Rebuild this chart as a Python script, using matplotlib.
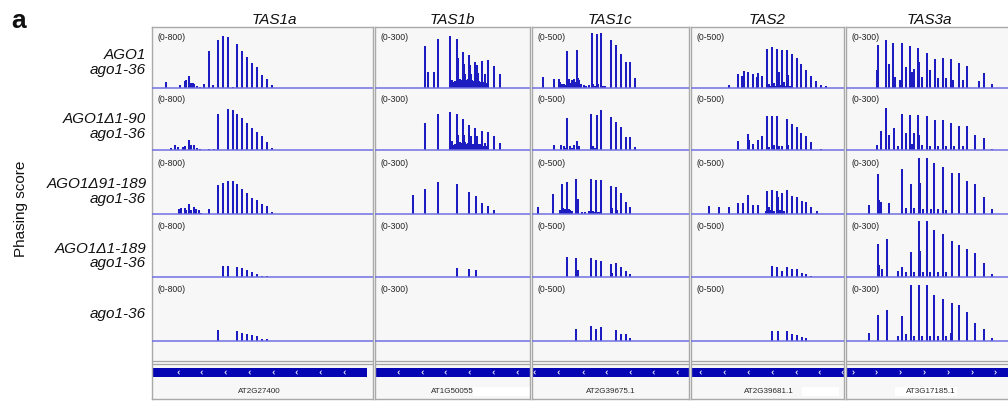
import matplotlib
matplotlib.use("Agg")
import matplotlib.pyplot as plt
from matplotlib.patches import Rectangle

plt.rcParams['font.family'] = ['Liberation Sans', 'DejaVu Sans']

# ---------------- data ----------------
loci = ["TAS1a", "TAS1b", "TAS1c", "TAS2", "TAS3a"]
ranges = [800, 300, 500, 500, 300]
genes = ["AT2G27400", "AT1G50055", "AT2G39675.1", "AT2G39681.1", "AT3G17185.1"]
strand = ["-", "-", "-", "-", "+"]
row_line1 = ["AGO1", "AGO1\u03941-90", "AGO1\u039491-189", "AGO1\u03941-189", ""]
row_line2 = ["ago1-36", "ago1-36", "ago1-36", "ago1-36", "ago1-36"]

# (position within locus window, phasing score)
tas1a_r1 = [(14, 80), (28.3, 45), (32.6, 100), (34, 110), (37.3, 165), (38.5, 65), (39.6, 70), (41, 65),
            (42.3, 55), (45, 25), (48.3, 20), (52.3, 50), (57, 500), (60.6, 35), (66.3, 635), (71, 700),
            (76, 675), (80.6, 15), (85.3, 585), (90.3, 490), (95.3, 413), (100.3, 340), (105, 285),
            (110.3, 180), (115, 115), (120, 35)]
tas1a_r2 = [(19, 22), (23.3, 62), (25.6, 44), (31, 35), (32.6, 48), (37.3, 133), (38.6, 62), (41.6, 67),
            (45, 22), (48.3, 13), (57, 13), (61.6, 13), (66.3, 480), (76, 547), (80.6, 530), (85.3, 480),
            (90.3, 427), (95.3, 355), (100.3, 293), (105, 240), (110.3, 182), (115, 107), (120, 31)]
tas1a_r3 = [(27.3, 67), (29, 75), (32.6, 80), (34.3, 53), (37.3, 138), (39.3, 53), (42, 89), (44.3, 62),
            (46.6, 58), (49.3, 18), (56.6, 62), (66.3, 382), (71, 408), (76, 444), (80.6, 435), (85.3, 404),
            (90.3, 337), (95.3, 284), (100.3, 209), (105, 187), (110.3, 129), (115, 107), (120, 27)]
tas1a_r4 = [(71, 151), (76, 151), (85.3, 129), (90.3, 120), (95.3, 93), (100.3, 62), (105, 36),
            (110.3, 18), (115, 13)]
tas1a_r5 = [(66.3, 142), (85.3, 138), (90.3, 111), (95.3, 89), (100.3, 84), (105, 67), (110.3, 27),
            (115, 22)]

tas1b_r1 = [(50.3, 210), (52.7, 82), (58.7, 78), (63, 247), (75.3, 258), (77, 38), (79, 30), (80, 35),
            (81.7, 247), (82.3, 147), (83.3, 152), (84.5, 45), (85.5, 35), (86.5, 40), (87.7, 180),
            (88.3, 60), (89, 122), (90.3, 72), (91.3, 40), (92.3, 35), (93.3, 45), (94.3, 163), (95, 113),
            (96.3, 70), (97.3, 40), (98.3, 35), (99.3, 30), (100.3, 130), (101.7, 113), (102.3, 40),
            (103, 75), (104, 35), (105, 30), (107, 133), (108.3, 30), (109.7, 68), (110.7, 25),
            (111.7, 20), (113.3, 142), (119, 108), (125.3, 72)]
tas1b_r2 = [(50.3, 135), (63, 180), (75.3, 192), (77, 43), (78.5, 25), (80, 30), (81.7, 180), (83.3, 77),
            (84.5, 40), (85.5, 35), (86.5, 30), (87.7, 157), (89, 77), (90.3, 40), (91.5, 30), (92.5, 35),
            (94.3, 127), (95.7, 68), (96.8, 30), (97.8, 25), (99, 30), (100.3, 110), (101.7, 68),
            (102.7, 30), (104, 25), (105.3, 30), (107, 93), (108.3, 20), (109.7, 35), (111, 20),
            (113.3, 90), (119, 72), (125.3, 35)]
tas1b_r3 = [(38.3, 95), (50.3, 123), (63, 158), (81.7, 150), (94.3, 110), (100.7, 92), (107, 57),
            (113.3, 40), (119, 20)]
tas1b_r4 = [(81.7, 43), (94.3, 42), (100.7, 37)]
tas1b_r5 = []

tas1c_r1 = [(10.6, 92), (22.3, 78), (26.6, 78), (28.3, 50), (29.5, 30), (31.6, 36), (33, 25), (35.3, 306),
            (37, 78), (38.5, 40), (40, 64), (41.6, 78), (43, 50), (44.6, 314), (45.6, 86), (47.3, 69),
            (48.5, 30), (51.6, 22), (54, 15), (56.6, 28), (59.6, 461), (61, 36), (62.5, 20), (64.6, 453),
            (66.3, 36), (69.3, 461), (70.5, 15), (73.3, 14), (79, 403), (84, 356), (88.6, 286),
            (93.6, 217), (98.3, 217), (103.3, 86)]
tas1c_r2 = [(22.3, 39), (29, 44), (31.6, 31), (33, 20), (35.3, 267), (38.3, 31), (40, 20), (42.3, 44),
            (44.6, 72), (47.3, 31), (59, 300), (61, 31), (62.5, 20), (64.6, 289), (69.3, 331), (79, 275),
            (84, 231), (88.6, 189), (93.6, 106), (98.3, 106), (103.3, 28)]
tas1c_r3 = [(6, 56), (21, 169), (28, 30), (30, 247), (31, 47), (32.5, 40), (34, 35), (35, 267), (36.5, 40),
            (38, 30), (40, 25), (44.3, 289), (45.6, 122), (50, 17), (53.3, 17), (56.6, 25), (58, 20),
            (59.3, 289), (61, 25), (62.5, 20), (64.3, 281), (66, 20), (67.5, 20), (69, 281), (79, 236),
            (79.8, 50), (84, 222), (84.8, 30), (88.6, 172), (93.6, 97), (98.3, 58)]
tas1c_r4 = [(35, 164), (44.3, 158), (45.6, 61), (59.3, 158), (64.3, 139), (69, 136), (79, 108),
            (80.3, 33), (84, 117), (88.6, 83), (93.6, 53), (98.3, 25)]
tas1c_r5 = [(44.3, 103), (59.3, 125), (64.3, 103), (69, 117), (84, 89), (88.6, 61), (93.6, 56),
            (98.3, 28)]

tas2_r1 = [(38.3, 28), (47, 119), (51.3, 97), (52.6, 142), (57, 133), (62, 119), (66, 92), (67.3, 128),
           (71.3, 97), (76.3, 328), (78, 36), (79.5, 20), (81.3, 342), (82.6, 40), (84, 20), (86.3, 322),
           (88, 133), (89.5, 25), (91.3, 314), (92.6, 50), (94, 20), (96, 314), (97.3, 106), (99, 20),
           (101, 286), (105.6, 253), (110.3, 203), (115.3, 153), (120.3, 103), (125.3, 56), (130.3, 22),
           (135.3, 14)]
tas2_r2 = [(47, 72), (57, 136), (58.3, 86), (62, 53), (67, 86), (71.3, 119), (76.3, 281), (77.8, 25),
           (81.3, 281), (82.6, 39), (86.3, 281), (88, 31), (91.3, 31), (96, 258), (97.3, 39), (101, 219),
           (105.6, 192), (110.3, 142), (115.3, 114), (120.3, 67), (130.3, 11)]
tas2_r3 = [(18.3, 69), (27.6, 61), (37.6, 61), (46.6, 89), (52, 89), (57.3, 156), (61.6, 75), (66.6, 75),
           (74.5, 25), (76, 194), (77.6, 60), (79, 30), (81, 200), (82.5, 25), (86, 192), (87.3, 144),
           (89, 30), (91, 178), (92.5, 25), (96, 200), (101, 153), (106, 144), (111, 108), (115.3, 97),
           (120.3, 56), (126, 28)]
tas2_r4 = [(81, 89), (86, 83), (91, 50), (96, 83), (101, 67), (106, 67), (111, 33), (115.3, 28),
           (120.3, 6)]
tas2_r5 = [(81, 83), (87, 81), (96, 81), (101, 56), (106, 47), (111, 33), (115.3, 28)]

tas3a_r1 = [(30.7, 92), (32.3, 213), (39.7, 238), (43, 122), (47.3, 227), (49, 55), (54, 38), (55.7, 227),
            (59.7, 105), (64, 210), (66.3, 80), (68, 97), (72, 200), (73.3, 130), (76.3, 55), (80.7, 177),
            (84, 88), (88.7, 143), (92, 50), (96.7, 150), (100, 52), (105, 143), (107.3, 38), (112.7, 127),
            (116.7, 42), (121.3, 108), (132.7, 33), (138, 75), (146, 18)]
tas3a_r2 = [(30.7, 23), (35, 93), (39.7, 210), (43, 73), (48.3, 110), (52, 20), (56.3, 180), (59.7, 85),
            (64, 177), (66, 30), (68, 85), (72, 177), (73.3, 77), (76, 25), (80.7, 168), (84, 20),
            (88.7, 152), (92, 20), (96.7, 148), (100, 20), (105, 135), (108, 20), (112.7, 118),
            (116.7, 20), (121.3, 118), (129.3, 77), (138, 60), (146, 7)]
tas3a_r3 = [(23.3, 45), (31.7, 198), (33.3, 70), (35, 58), (43, 53), (56.3, 225), (59.7, 28), (64.7, 148),
            (68, 28), (73, 278), (74, 153), (76.5, 25), (80.7, 278), (81.3, 137), (84.5, 25), (88.3, 257),
            (91.5, 25), (97, 233), (100, 20), (105.7, 203), (113.3, 203), (121.3, 167), (129.3, 148),
            (138, 87), (146, 23)]
tas3a_r4 = [(31.7, 167), (33.3, 62), (35.7, 42), (40.7, 190), (41.3, 128), (51.7, 28), (56.3, 48),
            (59.7, 25), (64.7, 123), (68, 25), (73, 278), (74, 132), (76.5, 25), (80.7, 278), (81.3, 112),
            (84, 25), (88.3, 233), (91.7, 25), (97, 217), (100.3, 25), (105.7, 178), (113.3, 162),
            (121.3, 142), (129.3, 120), (138, 70), (146, 15)]
tas3a_r5 = [(23.3, 42), (31.7, 128), (40.7, 153), (51.7, 25), (56.3, 123), (59.7, 37), (64.7, 278),
            (68, 23), (73, 278), (76.3, 25), (80.7, 278), (84, 25), (88.3, 232), (91.7, 25), (97, 212),
            (100.3, 25), (104.5, 40), (105.7, 190), (113.3, 178), (121.3, 145), (129.3, 92), (138, 58),
            (146, 17)]

tracks = [
    [tas1a_r1, tas1a_r2, tas1a_r3, tas1a_r4, tas1a_r5],
    [tas1b_r1, tas1b_r2, tas1b_r3, tas1b_r4, tas1b_r5],
    [tas1c_r1, tas1c_r2, tas1c_r3, tas1c_r4, tas1c_r5],
    [tas2_r1, tas2_r2, tas2_r3, tas2_r4, tas2_r5],
    [tas3a_r1, tas3a_r2, tas3a_r3, tas3a_r4, tas3a_r5],
]

# ---------------- layout (pixels) ----------------
W, H = 1008, 403
col_x = [(152, 373), (375, 530), (532, 689), (691, 844), (846, 1014)]
title_x = [274, 452, 610, 767, 929]
panel_top, panel_bot = 27, 399
baselines = [88, 150, 214, 277, 341]
track_h = 60
gene_bar_end = [215, None, None, None, None]
chevrons = [[26, 49, 73, 97, 121, 144, 168, 192],
            [23, 47, 70, 94, 118, 142],
            [2, 26, 51, 74, 98, 121, 145],
            [9, 33, 57, 81, 105, 128, 151],
            [7, 30, 54, 78, 102, 126, 149]]
label_box = [None, (98, 155), None, (111, 148), (49, 111)]
gene_label_x = [107, 77, 79, 78, 85]

BAR = '#1c1cc0'
BASE = '#7070e2'
BG = '#f7f7f8'
FRAME = '#a9a9a9'

fig = plt.figure(figsize=(W / 100, H / 100), dpi=100)


def add_px_axes(x0, y0, x1, y1, **kw):
    return fig.add_axes([x0 / W, 1 - y1 / H, (x1 - x0) / W, (y1 - y0) / H], **kw)


for c, (x0, x1) in enumerate(col_x):
    w = x1 - x0
    pan = add_px_axes(x0, panel_top, x1, panel_bot)
    pan.set_facecolor(BG)
    pan.set_xlim(0, w)
    pan.set_ylim(panel_bot, panel_top)
    pan.set_xticks([])
    pan.set_yticks([])
    for s in pan.spines.values():
        s.set_color(FRAME)
        s.set_linewidth(1.0)
    # separator double line
    pan.plot([0, w], [361, 361], color='#a4a4a4', lw=0.9)
    pan.plot([0, w], [364.3, 364.3], color='#a4a4a4', lw=0.9)
    # gene bar
    end = gene_bar_end[c] if gene_bar_end[c] is not None else w
    pan.add_patch(Rectangle((0.5, 368), end - 0.5, 9, facecolor='#0505b4', edgecolor='none'))
    for cx in chevrons[c]:
        if strand[c] == '-':
            pan.plot([cx + 1.3, cx, cx + 1.3], [371, 372.5, 374], color='white', lw=0.6)
        else:
            pan.plot([cx, cx + 1.3, cx], [371, 372.5, 374], color='white', lw=0.6)
    if label_box[c] is not None:
        bx0, bx1 = label_box[c]
        pan.add_patch(Rectangle((bx0, 387), bx1 - bx0, 9, facecolor='white', edgecolor='none'))
    pan.text(gene_label_x[c], 391.5, genes[c], ha='center', va='center',
             fontsize=5.8, color='#2a2a2a')

    # column title
    fig.text(title_x[c] / W, 1 - 23.5 / H, loci[c], ha='center', va='baseline',
             fontsize=11, style='italic', color='#111')

    for r, b in enumerate(baselines):
        ax = add_px_axes(x0, b - track_h, x1, b)
        ax.set_facecolor('none')
        ax.set_xlim(0, w)
        ax.set_ylim(0, ranges[c])
        ax.axis('off')
        data = tracks[c][r]
        if data:
            xs = [p for p, v in data]
            vs = [v for p, v in data]
            ax.vlines(xs, 0, vs, colors=BAR, linewidth=1.45)
        ax.plot([0, w], [0, 0], color=BASE, lw=1.1, clip_on=False, solid_capstyle='butt')
        ax.text(5.5, 55.5 / track_h, f"(0-{ranges[c]})", transform=ax.get_xaxis_transform(),
                ha='left', va='top', fontsize=6.2, color='#222')

# row labels
line1_base = [59.3, 123, 188.3, 252.7, None]
line2_base = [74, 138, 203.3, 267.5, 318]
for r in range(5):
    if row_line1[r]:
        fig.text(146.5 / W, 1 - line1_base[r] / H, row_line1[r], ha='right', va='baseline',
                 fontsize=11, style='italic', color='#111')
    fig.text(146 / W, 1 - line2_base[r] / H, row_line2[r], ha='right', va='baseline',
             fontsize=11, style='italic', color='#111')

fig.text(21 / W, 1 - 209 / H, "Phasing score", rotation=90, ha='center', va='center',
         fontsize=11, color='#111')
fig.text(11 / W, 1 - 28 / H, "a", ha='left', va='baseline', fontsize=19, fontweight='bold',
         color='#111')

fig.savefig("out.png", dpi=100, facecolor='white')
